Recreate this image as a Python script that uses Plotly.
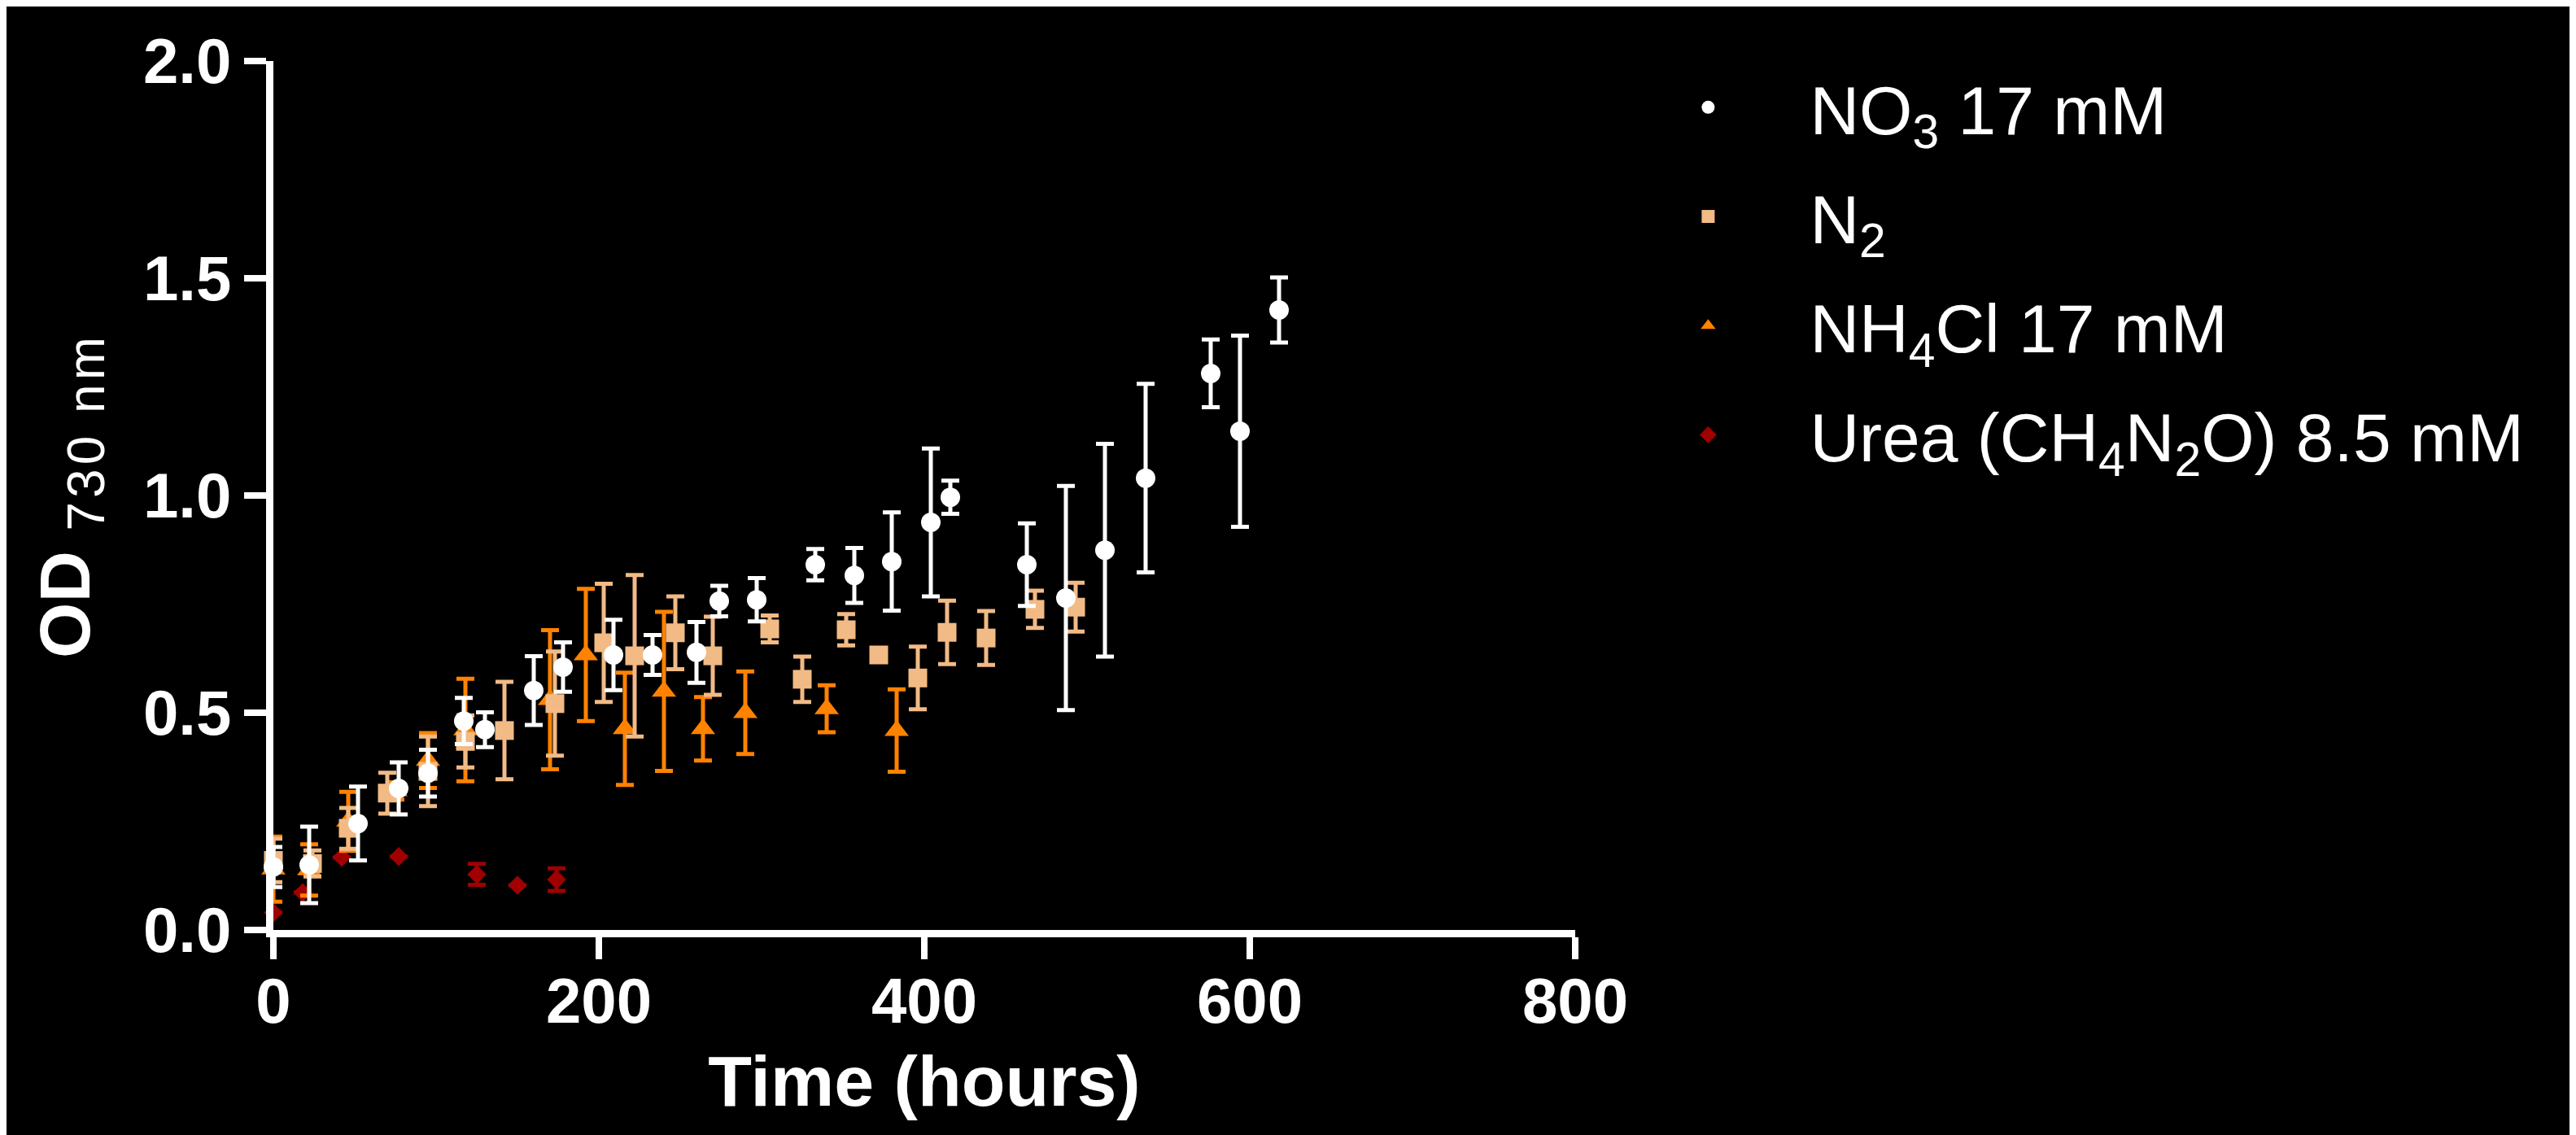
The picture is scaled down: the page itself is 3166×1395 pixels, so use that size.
import plotly.graph_objects as go

# ---------------- data ----------------
no3_x = [0, 22, 52, 77, 95, 117, 130, 160, 178, 209, 233, 260, 274, 297, 333,
         357, 380, 404, 416, 463, 487, 511, 536, 576, 594, 618]
no3_y = [0.145, 0.15, 0.245, 0.326, 0.361, 0.481, 0.461, 0.551, 0.605, 0.633,
         0.633, 0.639, 0.757, 0.76, 0.841, 0.816, 0.848, 0.938, 0.996, 0.841,
         0.764, 0.874, 1.04, 1.281, 1.148, 1.427]
no3_err = [0.046, 0.088, 0.085, 0.06, 0.054, 0.053, 0.04, 0.079, 0.057, 0.081,
           0.046, 0.07, 0.035, 0.05, 0.036, 0.063, 0.113, 0.17, 0.038, 0.095,
           0.258, 0.245, 0.217, 0.078, 0.22, 0.075]

n2_x = [0, 24, 46, 70, 95, 118, 142, 173, 203, 222, 247, 270, 305, 325, 352,
        372, 396, 414, 438, 468, 493]
n2_y = [0.16, 0.153, 0.234, 0.315, 0.365, 0.434, 0.459, 0.521, 0.661, 0.631,
        0.684, 0.631, 0.693, 0.577, 0.691, 0.633, 0.58, 0.685, 0.672, 0.738,
        0.743]
n2_err = [0.05, 0.03, 0.047, 0.047, 0.08, 0.06, 0.112, 0.12, 0.136, 0.186,
          0.084, 0.09, 0.031, 0.052, 0.036, 0.0, 0.072, 0.073, 0.062, 0.043,
          0.056]

nh4_x = [0, 22, 46, 75, 95, 118, 170, 192, 216, 240, 264, 290, 340, 383]
nh4_y = [0.14, 0.138, 0.25, 0.32, 0.39, 0.46, 0.53, 0.633, 0.463, 0.549,
         0.463, 0.5, 0.509, 0.459]
nh4_err = [0.075, 0.059, 0.068, 0.02, 0.063, 0.118, 0.16, 0.152, 0.129, 0.183,
           0.073, 0.095, 0.054, 0.095]

urea_x = [0, 18, 42, 77, 125, 150, 174]
urea_y = [0.04, 0.086, 0.167, 0.169, 0.128, 0.103, 0.116]
urea_err = [0.0, 0.0, 0.0, 0.0, 0.024, 0.0, 0.026]

x_ticks = [0, 200, 400, 600, 800]
y_ticks = [0.0, 0.5, 1.0, 1.5, 2.0]

names = ["NO<sub>3</sub> 17 mM", "N<sub>2</sub>", "NH<sub>4</sub>Cl 17 mM",
         "Urea (CH<sub>4</sub>N<sub>2</sub>O) 8.5 mM"]
colors = ["#FFFFFF", "#F2BA85", "#FF8200", "#A00000"]
symbols = ["circle", "square", "triangle-up", "diamond"]
sizes = [24, 23, 26, 18]

FONT = "Liberation Sans, Arial, sans-serif"

series = [
    (no3_x, no3_y, no3_err),
    (n2_x, n2_y, n2_err),
    (nh4_x, nh4_y, nh4_err),
    (urea_x, urea_y, urea_err),
]

fig = go.Figure()
# draw in reverse so NO3 is on top; legend order kept by legendrank
for i in reversed(range(4)):
    xs, ys, es = series[i]
    fig.add_trace(go.Scatter(
        x=xs, y=ys, mode="markers", name=names[i],
        legendgroup=f"g{i}", legendrank=i + 1,
        marker=dict(symbol=symbols[i], size=sizes[i], color=colors[i],
                    line=dict(width=0)),
        error_y=dict(type="data", array=es, visible=True, color=colors[i],
                     thickness=5, width=11),
        cliponaxis=False,
    ))

fig.update_layout(
    width=3166, height=1395,
    paper_bgcolor="black", plot_bgcolor="black",
    margin=dict(l=328, r=1238, t=67, b=260, autoexpand=False),
    font=dict(family=FONT, color="white"),
    showlegend=True,
    legend=dict(
        x=1.024, y=1.004, xanchor="left", yanchor="top",
        bgcolor="rgba(0,0,0,0)",
        font=dict(family=FONT, size=84, color="white"),
        itemwidth=240, tracegroupgap=22, traceorder="grouped",
    ),
)

axis_common = dict(
    showgrid=False, zeroline=False, showline=True, linecolor="white",
    linewidth=9, ticks="outside", tickcolor="white", tickwidth=8, ticklen=27,
    tickfont=dict(family=FONT, size=78, color="white", weight="bold"),
)

fig.update_xaxes(
    range=[0, 800], tickvals=x_ticks, ticktext=[str(v) for v in x_ticks],
    ticklabelstandoff=-16,
    title=dict(text="Time (hours)", standoff=28,
               font=dict(family=FONT, size=88, color="white", weight="bold")),
    **axis_common,
)
fig.update_yaxes(
    range=[0, 2], tickvals=y_ticks, ticktext=[f"{v:.1f}" for v in y_ticks],
    title=dict(text="OD <sub><span style='font-weight:normal;font-size:64px;"
                    "letter-spacing:5px'>730 nm</span></sub>",
               standoff=40,
               font=dict(family=FONT, size=88, color="white", weight="bold")),
    **axis_common,
)

fig.write_html("out.html")
